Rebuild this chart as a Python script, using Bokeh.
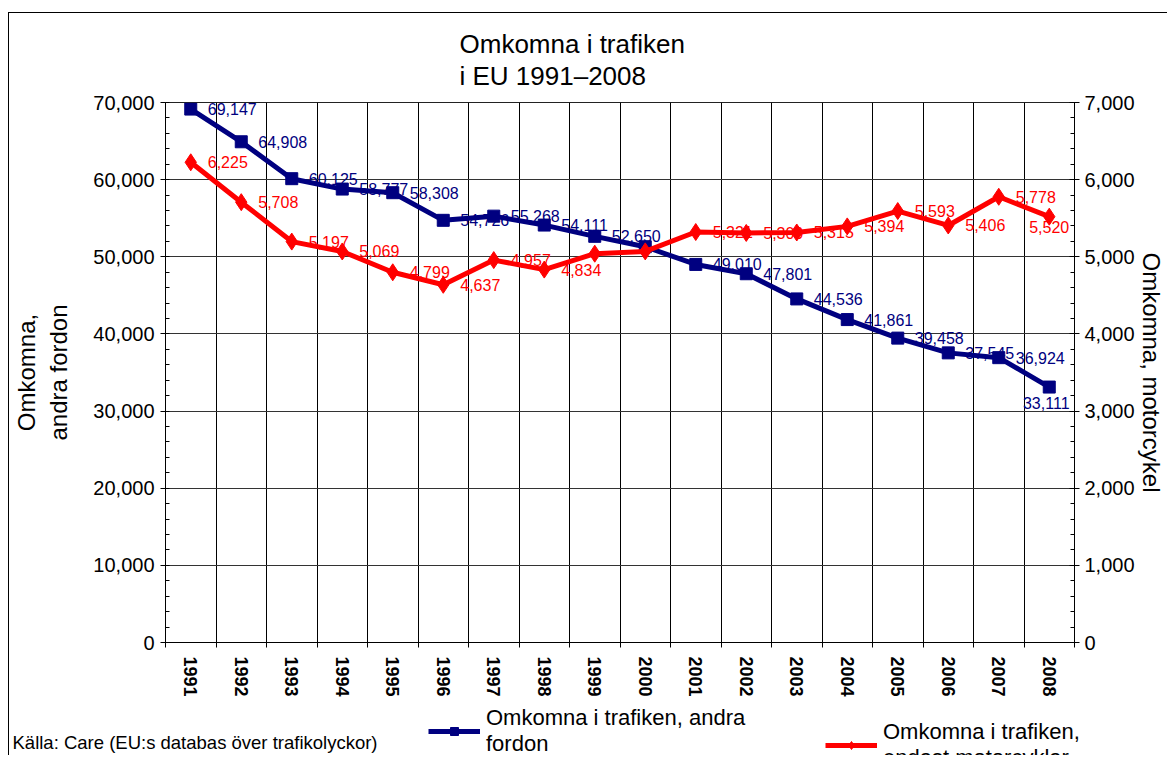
from bokeh.plotting import figure
from bokeh.layouts import column
from bokeh.models import (ColumnDataSource, Range1d, LinearAxis, FixedTicker,
                          SingleIntervalTicker, NumeralTickFormatter, LabelSet,
                          Label, Legend, LegendItem, Title)
from bokeh.core.properties import value
from bokeh.embed import file_html
from bokeh.resources import INLINE

# ---------------- data ----------------
years = ["1991", "1992", "1993", "1994", "1995", "1996", "1997", "1998", "1999",
         "2000", "2001", "2002", "2003", "2004", "2005", "2006", "2007", "2008"]
other_vehicles = [69147, 64908, 60125, 58777, 58308, 54726, 55268, 54111, 52650,
                  51300, 49010, 47801, 44536, 41861, 39458, 37545, 36924, 33111]
motorcycles = [6225, 5708, 5197, 5069, 4799, 4637, 4957, 4834, 5040,
               5070, 5321, 5309, 5315, 5394, 5593, 5406, 5778, 5520]
hidden_other_labels = [9]        # value labels not shown in the original
hidden_moto_labels = [8, 9]

title_text = "Omkomna i trafiken\ni EU 1991\u20132008"
left_title = "Omkomna,\nandra fordon"
right_title = "Omkomna, motorcykel"
legend_other = "Omkomna i trafiken, andra\nfordon"
legend_moto = "Omkomna i trafiken,\nendast motorcyklar"
source_text = "K\u00e4lla: Care (EU:s databas \u00f6ver trafikolyckor)"

BLUE = "#000080"
RED = "#FF0000"
FONT = "Liberation Sans"
W = 1158
NAN = float("nan")

xs = list(range(1, len(years) + 1))


def fmt(v):
    return f"{v:,}"


other_txt = ["" if i in hidden_other_labels else fmt(v) for i, v in enumerate(other_vehicles)]
moto_txt = ["" if i in hidden_moto_labels else fmt(v) for i, v in enumerate(motorcycles)]

src = ColumnDataSource(dict(x=xs, other=other_vehicles, moto=motorcycles,
                            other_txt=other_txt, moto_txt=moto_txt))
src_main = ColumnDataSource(dict(x=xs[:-1], other=other_vehicles[:-1], moto=motorcycles[:-1],
                                 other_txt=other_txt[:-1], moto_txt=moto_txt[:-1]))
src_last = ColumnDataSource(dict(x=xs[-1:], other=other_vehicles[-1:], moto=motorcycles[-1:],
                                 other_txt=other_txt[-1:], moto_txt=moto_txt[-1:]))

p = figure(width=W, height=687, output_backend="svg", toolbar_location=None,
           x_range=Range1d(0.5, len(years) + 0.5), y_range=Range1d(0, 70000),
           min_border_left=154, min_border_top=89, min_border_right=90,
           min_border_bottom=58)
p.frame_align = False
p.extra_y_ranges = {"moto": Range1d(0, 7000)}
p.background_fill_color = "white"
p.border_fill_color = "white"
p.outline_line_color = "#222222"

# ---------- title ----------
p.add_layout(Title(text=title_text, align="left", offset=294, standoff=24,
                   text_font=FONT, text_font_size="26px", text_font_style="normal",
                   text_color="black", text_line_height=1.05), "above")

# ---------- axes ----------
p.xaxis.ticker = FixedTicker(ticks=xs, minor_ticks=[x - 0.5 for x in xs] + [xs[-1] + 0.5])
p.xaxis.major_label_overrides = {x: y for x, y in zip(xs, years)}
p.xaxis.major_label_orientation = "vertical"
p.xaxis.major_label_text_font = FONT
p.xaxis.major_label_text_font_size = "18px"
p.xaxis.major_label_text_font_style = "bold"
p.xaxis.major_label_text_color = "black"
p.xaxis.major_label_standoff = 8
p.xaxis.major_tick_line_color = None
p.xaxis.minor_tick_in = 5
p.xaxis.minor_tick_out = 5
p.xaxis.minor_tick_line_color = "black"
p.xaxis.axis_line_color = "black"

ly = p.yaxis[0]
ly.ticker = SingleIntervalTicker(interval=10000, num_minor_ticks=5)
ly.formatter = NumeralTickFormatter(format="0,0")
ly.major_label_text_font = FONT
ly.major_label_text_font_size = "20px"
ly.major_label_text_color = "black"
ly.major_tick_in = 0
ly.major_tick_out = 5
ly.minor_tick_in = 4
ly.minor_tick_out = 0
ly.major_label_standoff = 6
ly.axis_label = left_title
ly.axis_label_text_font = FONT
ly.axis_label_text_font_size = "24px"
ly.axis_label_text_font_style = "normal"
ly.axis_label_text_color = "black"
ly.axis_label_standoff = 18
ly.axis_line_color = "black"
ly.major_tick_line_color = "black"
ly.minor_tick_line_color = "black"

ry = LinearAxis(y_range_name="moto",
                ticker=SingleIntervalTicker(interval=1000, num_minor_ticks=5),
                formatter=NumeralTickFormatter(format="0,0"))
ry.major_label_text_font = FONT
ry.major_label_text_font_size = "20px"
ry.major_label_text_color = "black"
ry.major_tick_in = 5
ry.major_tick_out = 5
ry.minor_tick_in = 4
ry.minor_tick_out = 0
ry.major_label_standoff = 5
ry.axis_label = right_title
ry.axis_label_text_font = FONT
ry.axis_label_text_font_size = "24px"
ry.axis_label_text_font_style = "normal"
ry.axis_label_text_color = "black"
ry.axis_label_standoff = 0
ry.axis_line_color = "black"
ry.major_tick_line_color = "black"
ry.minor_tick_line_color = "black"
p.add_layout(ry, "right")

# ---------- grid ----------
p.xgrid.ticker = FixedTicker(ticks=[x + 0.5 for x in xs[:-1]])
p.xgrid.grid_line_color = "black"
p.xgrid.grid_line_width = 1
p.ygrid.ticker = SingleIntervalTicker(interval=10000)
p.ygrid.grid_line_color = "#333333"
p.ygrid.grid_line_width = 1

# ---------- series ----------
p.line("x", "other", source=src, color=BLUE, line_width=5, line_join="round")
p.scatter("x", "other", source=src, marker="square", size=12,
          fill_color=BLUE, line_color=BLUE)
p.line("x", "moto", source=src, color=RED, line_width=5, line_join="round",
       y_range_name="moto")
p.scatter("x", "moto", source=src, marker="diamond", size=17,
          fill_color=RED, line_color=RED, y_range_name="moto")

# ---------- value labels ----------
common = dict(text_font=value(FONT), text_font_size="16px")
p.add_layout(LabelSet(x="x", y="other", text="other_txt", source=src_main,
                      x_offset=17, y_offset=0, text_baseline="middle",
                      text_color=BLUE, **common))
p.add_layout(LabelSet(x="x", y="other", text="other_txt", source=src_last,
                      x_offset=-3, y_offset=-10, text_align="center", text_baseline="top",
                      text_color=BLUE, **common))
p.add_layout(LabelSet(x="x", y="moto", text="moto_txt", source=src_main,
                      y_range_name="moto", x_offset=17, y_offset=0,
                      text_baseline="middle", text_color=RED, **common))
p.add_layout(LabelSet(x="x", y="moto", text="moto_txt", source=src_last,
                      y_range_name="moto", x_offset=0, y_offset=-4,
                      text_align="center", text_baseline="top", text_color=RED, **common))

# ---------- legend strip (separate small figure below the chart) ----------
q = figure(width=W, height=55, output_backend="svg", toolbar_location=None,
           x_range=Range1d(0, 1), y_range=Range1d(0, 1),
           x_axis_type=None, y_axis_type=None, min_border=0)
q.frame_align = False
q.grid.visible = False
q.outline_line_color = None
q.background_fill_color = "white"
q.border_fill_color = "white"
# legend keys styled like the series (no visible data of their own)
k_ol = q.line(x=[NAN], y=[NAN], color=BLUE, line_width=5)
k_os = q.scatter(x=[NAN], y=[NAN], marker="square", size=8, fill_color=BLUE, line_color=BLUE)
k_ml = q.line(x=[NAN], y=[NAN], color=RED, line_width=5)
k_ms = q.scatter(x=[NAN], y=[NAN], marker="diamond", size=10, fill_color=RED, line_color=RED)

leg_common = dict(orientation="horizontal", padding=0, margin=0, spacing=0,
                  border_line_color=None, background_fill_alpha=0,
                  glyph_width=52, glyph_height=20, label_standoff=6,
                  label_text_font=FONT, label_text_font_size="22px",
                  label_text_color="black", label_text_line_height=1.12)
q.add_layout(Legend(items=[LegendItem(label=legend_other, renderers=[k_ol, k_os])],
                    location=(419, -2), **leg_common))
q.add_layout(Legend(items=[LegendItem(label=legend_moto, renderers=[k_ml, k_ms])],
                    location=(816, -16), **leg_common))
q.add_layout(Label(x=3, y=3, x_units="screen", y_units="screen", text=source_text,
                   text_font=FONT, text_font_size="18.5px", text_color="black",
                   text_baseline="bottom", text_align="left"))

layout = column(p, q, spacing=0,
                styles={"border-left": "1px solid black", "border-top": "1px solid black",
                        "margin-left": "8px", "margin-top": "12px"})

open("out.html", "w").write(file_html(layout, INLINE))
